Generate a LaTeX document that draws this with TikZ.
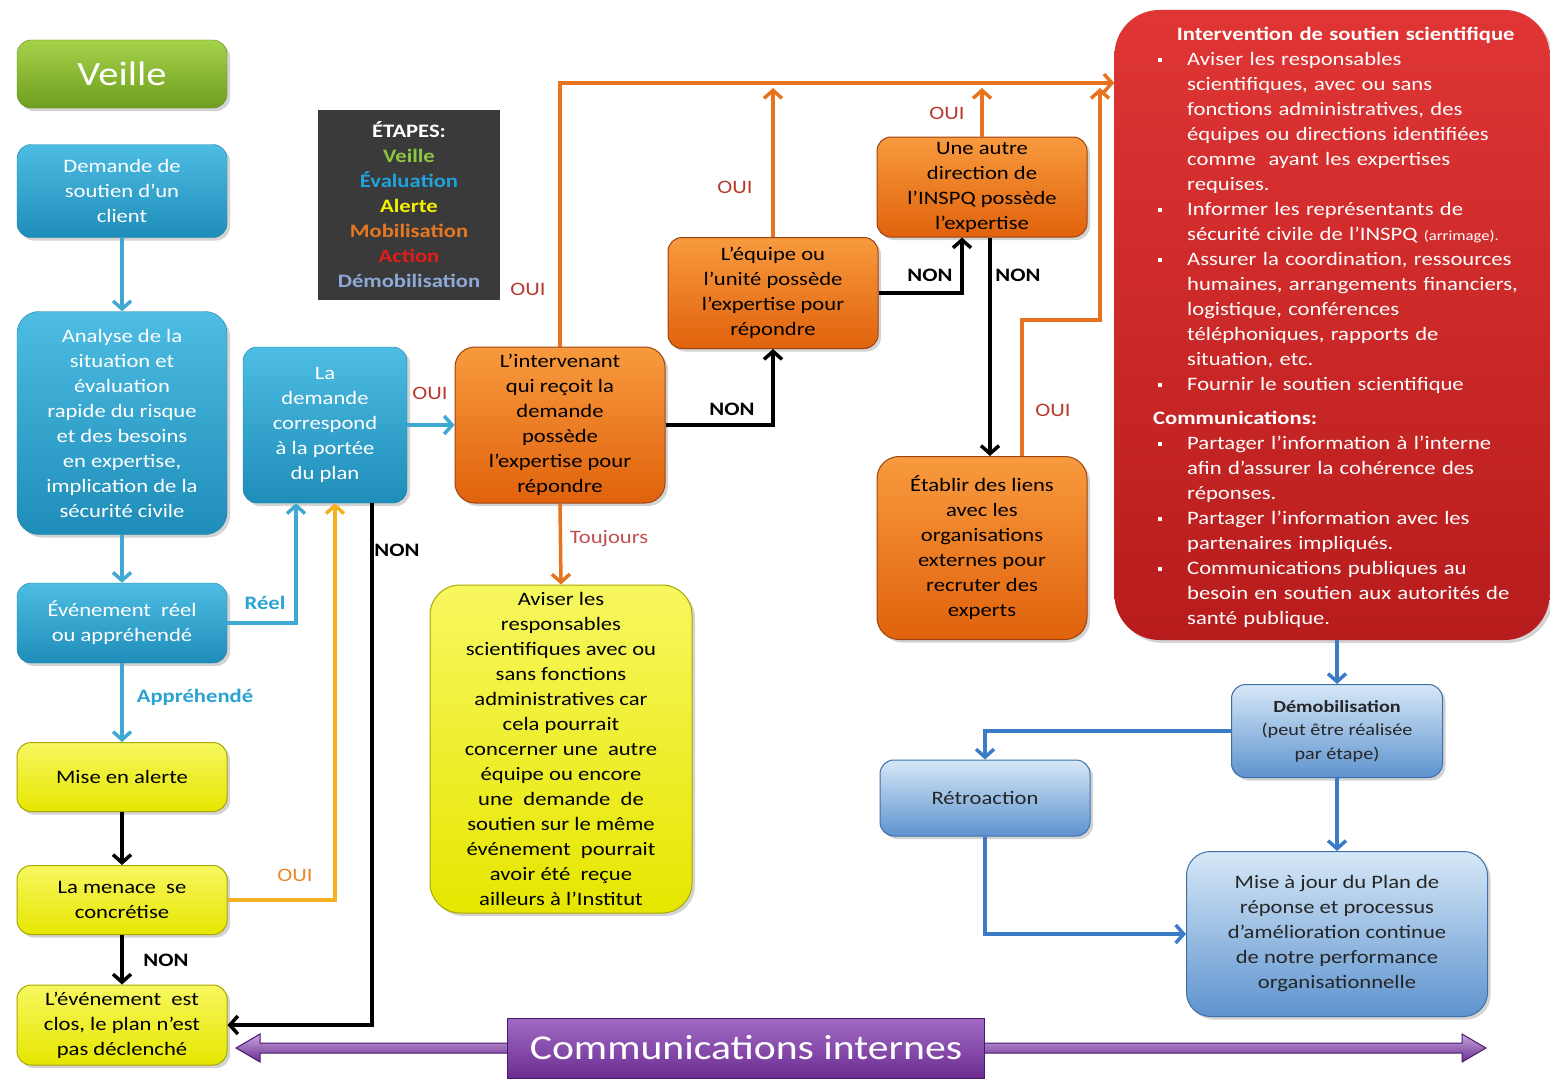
\documentclass[tikz,border=0pt]{standalone}
\usepackage{fontspec}
\setmainfont{Carlito}[FakeStretch=1.19]
\usetikzlibrary{arrows.meta,shadows,calc}
\definecolor{cyanT}{HTML}{4DBDE3}\definecolor{cyanB}{HTML}{1E8DB9}\definecolor{cyanD}{HTML}{1B7EA6}
\definecolor{greenT}{HTML}{A5D24A}\definecolor{greenB}{HTML}{6E9E1F}\definecolor{greenD}{HTML}{5E8A1A}
\definecolor{yelT}{HTML}{F7F760}\definecolor{yelB}{HTML}{E6E600}\definecolor{yelD}{HTML}{A8A800}
\definecolor{orT}{HTML}{F89A3E}\definecolor{orB}{HTML}{E0620C}\definecolor{orD}{HTML}{9C4410}
\definecolor{redT}{HTML}{E03535}\definecolor{redB}{HTML}{B71C1C}
\definecolor{lbT}{HTML}{D6E8F7}\definecolor{lbB}{HTML}{5E93CF}\definecolor{lbD}{HTML}{3F6FA8}
\definecolor{purT}{HTML}{A26BC6}\definecolor{purB}{HTML}{6B2D91}\definecolor{purD}{HTML}{4A1A6A}
\definecolor{legendgray}{HTML}{3A3A3A}
\definecolor{lineCyan}{HTML}{3FA9D2}\definecolor{lineOrange}{HTML}{E8731E}
\definecolor{lineYellow}{HTML}{F4B223}\definecolor{lineBlue}{HTML}{3B7CC9}
\definecolor{ouiRed}{HTML}{B83A2E}\definecolor{ouiOrange}{HTML}{E8892A}
\definecolor{toujoursC}{HTML}{C0504D}\definecolor{labCyan}{HTML}{2AA3D3}
\definecolor{lgreen}{HTML}{8DC63F}\definecolor{lcyan}{HTML}{1FA3DC}
\definecolor{lyellow}{HTML}{F2F200}\definecolor{lorange}{HTML}{E87722}
\definecolor{lred}{HTML}{E41B17}\definecolor{lsteel}{HTML}{8EA9D8}
\newcommand\bitem{\par\noindent\hangindent=34pt\hangafter=1\makebox[34pt][l]{\hspace{5pt}\rule[4pt]{4pt}{4pt}}\ignorespaces}
\begin{document}
\begin{tikzpicture}[x=1pt,y=-1pt,
  box/.style={rounded corners=14pt, align=center, inner sep=2pt,
    font=\fontsize{19}{25}\selectfont,
    drop shadow={opacity=0.35,shadow xshift=3pt,shadow yshift=-3pt}},
  cyanbox/.style={box, top color=cyanT, bottom color=cyanB, draw=cyanD, text=white},
  greenbox/.style={box, top color=greenT, bottom color=greenB, draw=greenD, text=white},
  yelbox/.style={box, top color=yelT, bottom color=yelB, draw=yelD, line width=1pt, text=black},
  orbox/.style={box, top color=orT, bottom color=orB, draw=orD, line width=1pt, text=black},
  lbbox/.style={box, top color=lbT, bottom color=lbB, draw=lbD, line width=1pt, text=black!85},
  conn/.style={line width=3.5pt, -{Straight Barb[length=8pt,width=18pt]}},
  cline/.style={conn, draw=lineCyan},
  oline/.style={conn, draw=lineOrange},
  yline/.style={conn, draw=lineYellow},
  kline/.style={conn, draw=black},
  bline/.style={conn, draw=lineBlue},
  lbl/.style={font=\fontsize{19}{22}\selectfont, inner sep=1pt},
  blbl/.style={font=\bfseries\fontsize{19}{22}\selectfont, inner sep=1pt}
]
\useasboundingbox (0,0) rectangle (1550,1081);

% ---------- purple communications arrow ----------
\coordinate (commL) at (236,1048);
\coordinate (commR) at (1486,1048);
\path[top color=purT!60, bottom color=purB, draw=purD, line width=1pt]
  (commL) -- ++(24,-14) -- ++(0,9) -- ($(commR)+(-24,-5)$) -- ++(0,-9) -- (commR)
  -- ++(-24,14) -- ++(0,-9) -- ($(commL)+(24,5)$) -- ++(0,9) -- cycle;
\node[top color=purT, bottom color=purB, draw=purD, line width=1pt,
  minimum width=477pt, minimum height=60pt, text=white,
  font=\fontsize{35}{40}\selectfont] (comm) at (746,1048) {Communications internes};

% ---------- left column ----------
\node[greenbox, minimum width=210pt, minimum height=68pt, font=\fontsize{34}{38}\selectfont] (veille) at (122,74) {Veille};
\node[cyanbox, minimum width=210pt, minimum height=93pt] (demande) at (122,191) {Demande de\\soutien d’un\\client};
\node[cyanbox, minimum width=210pt, minimum height=223pt, rounded corners=22pt] (analyse) at (122,423) {Analyse de la\\situation et\\évaluation\\rapide du risque\\et des besoins\\en expertise,\\implication de la\\sécurité civile};
\node[cyanbox, minimum width=210pt, minimum height=80pt] (evenement) at (122,623) {Événement\ \ réel\\ou appréhendé};
\node[yelbox, minimum width=210pt, minimum height=69pt] (alerte) at (122,777) {Mise en alerte};
\node[yelbox, minimum width=210pt, minimum height=69pt] (menace) at (122,900) {La menace\ \ se\\concrétise};
\node[yelbox, minimum width=210pt, minimum height=80pt] (clos) at (122,1025) {L’événement\ \ est\\clos, le plan n’est\\pas déclenché};

% ---------- middle ----------
\node[cyanbox, minimum width=164pt, minimum height=156pt] (portee) at (325,425) {La\\demande\\correspond\\à la portée\\du plan};
\node[fill=legendgray, minimum width=182pt, minimum height=190pt, align=center,
  font=\bfseries\fontsize{19}{25}\selectfont] (legend) at (409,205)
  {\textcolor{white}{ÉTAPES:}\\\textcolor{lgreen}{Veille}\\\textcolor{lcyan}{Évaluation}\\\textcolor{lyellow}{Alerte}\\\textcolor{lorange}{Mobilisation}\\\textcolor{lred}{Action}\\\textcolor{lsteel}{Démobilisation}};
\node[orbox, minimum width=210pt, minimum height=156pt, rounded corners=20pt] (interv) at (560,425) {L’intervenant\\qui reçoit la\\demande\\possède\\l’expertise pour\\répondre};
\node[orbox, minimum width=210pt, minimum height=111pt] (equipe) at (773,293) {L’équipe ou\\l’unité possède\\l’expertise pour\\répondre};
\node[orbox, minimum width=210pt, minimum height=100pt] (autre) at (982,187) {Une autre\\direction de\\l’INSPQ possède\\l’expertise};
\node[orbox, minimum width=210pt, minimum height=183pt, rounded corners=22pt] (liens) at (982,548) {Établir des liens\\avec les\\organisations\\externes pour\\recruter des\\experts};
\node[yelbox, minimum width=262pt, minimum height=328pt, rounded corners=30pt, inner sep=0pt] (aviser) at (561,749) {Aviser les\\responsables\\scientifiques avec ou\\sans fonctions\\administratives car\\cela pourrait\\concerner une\ \ autre\\équipe ou encore\\une\ \ demande\ \ de\\soutien sur le même\\événement\ \ pourrait\\avoir été\ \ reçue\\ailleurs à l’Institut};

% ---------- red box ----------
\node[top color=redT, bottom color=redB, rounded corners=45pt, minimum width=435pt, minimum height=630pt,
  drop shadow={opacity=0.35,shadow xshift=3pt,shadow yshift=-3pt}] (red) at (1332,325) {};
\node[anchor=north west, text=white, text width=385pt, inner sep=0pt,
  font=\fontsize{19}{25}\selectfont] (redtext) at (1153,27) {%
  \raggedright
  {\centering\textbf{Intervention de soutien scientifique}\par}
  \bitem Aviser les responsables\newline scientifiques, avec ou sans\newline fonctions administratives, des\newline équipes ou directions identifiées\newline comme\ \ ayant les expertises\newline requises.
  \bitem Informer les représentants de\newline sécurité civile de l’INSPQ {\fontsize{14}{25}\selectfont(arrimage).}
  \bitem Assurer la coordination, ressources\newline humaines, arrangements financiers,\newline logistique, conférences\newline téléphoniques, rapports de\newline situation, etc.
  \bitem Fournir le soutien scientifique\par
  \vspace{9pt}
  \noindent\textbf{Communications:}
  \bitem Partager l’information à l’interne\newline afin d’assurer la cohérence des\newline réponses.
  \bitem Partager l’information avec les\newline partenaires impliqués.
  \bitem Communications publiques au\newline besoin en soutien aux autorités de\newline santé publique.\par};

% ---------- bottom right ----------
\node[lbbox, minimum width=211pt, minimum height=93pt, font=\fontsize{17}{23.5}\selectfont] (demob) at (1337,731) {\raisebox{-4pt}{\textbf{Démobilisation}}\\\raisebox{-4pt}{(peut être réalisée}\\\raisebox{-4pt}{par étape)}};
\node[lbbox, minimum width=210pt, minimum height=76pt] (retro) at (985,798) {Rétroaction};
\node[lbbox, minimum width=301pt, minimum height=165pt, rounded corners=24pt] (maj) at (1337,934) {Mise à jour du Plan de\\réponse et processus\\d’amélioration continue\\de notre performance\\organisationnelle};

% ---------- connectors ----------
\draw[cline] (demande) -- (analyse);
\draw[cline] (analyse) -- (evenement);
\draw[cline] (evenement) -- (alerte);
\draw[cline] (evenement.east) -| ([xshift=-29pt]portee.south);
\draw[yline] (menace.east) -| ([xshift=10pt]portee.south);
\draw[kline] (alerte) -- (menace);
\draw[kline] (menace) -- (clos);
\draw[kline] ([xshift=47pt]portee.south) |- (clos.east);
\draw[cline] (portee.east) -- (interv.west);
\coordinate (topline) at (0,83);
\coordinate (tophead) at (0,88);
\draw[oline] (interv.north) |- (red.west |- topline);
\draw[kline] (interv.east) -| (equipe.south);
\draw[oline] (equipe.north) -- (equipe.north |- tophead);
\draw[kline] (equipe.east) -| ([xshift=-20pt]autre.south);
\draw[oline] (autre.north) -- (autre.north |- tophead);
\draw[kline] ([xshift=8pt]autre.south) -- ([xshift=8pt]liens.north);
\coordinate (ojog) at (1100,320);
\draw[oline] ([xshift=40pt]liens.north) |- (ojog) -- (ojog |- tophead);
\draw[oline] (interv.south) -- (aviser.north);
\draw[bline] (demob.north |- red.south) -- (demob.north);
\draw[bline] (demob.west) -| (retro.north);
\draw[bline] (demob.south) -- (maj.north);
\draw[bline] (retro.south) |- (maj.west);

% ---------- labels ----------
\node[blbl, text=labCyan] (lapp) at (195,697) {Appréhendé};
\node[blbl, text=labCyan] (lreel) at (265,603) {Réel};
\node[lbl, text=ouiOrange] (lmen) at (295,875) {OUI};
\node[blbl] (lnon1) at (166,960) {NON};
\node[blbl] (lnon2) at (397,550) {NON};
\node[lbl, text=ouiRed] (loui1) at (430,393) {OUI};
\node[lbl, text=ouiRed] (loui2) at (528,289) {OUI};
\node[blbl] (lnon3) at (732,409) {NON};
\node[lbl, text=ouiRed] (loui3) at (735,187) {OUI};
\node[blbl] (lnon4) at (930,275) {NON};
\node[lbl, text=ouiRed] (loui4) at (947,113) {OUI};
\node[blbl] (lnon5) at (1018,275) {NON};
\node[lbl, text=ouiRed] (loui5) at (1053,410) {OUI};
\node[lbl, text=toujoursC] (ltouj) at (609,539) {Toujours};
\end{tikzpicture}
\end{document}
